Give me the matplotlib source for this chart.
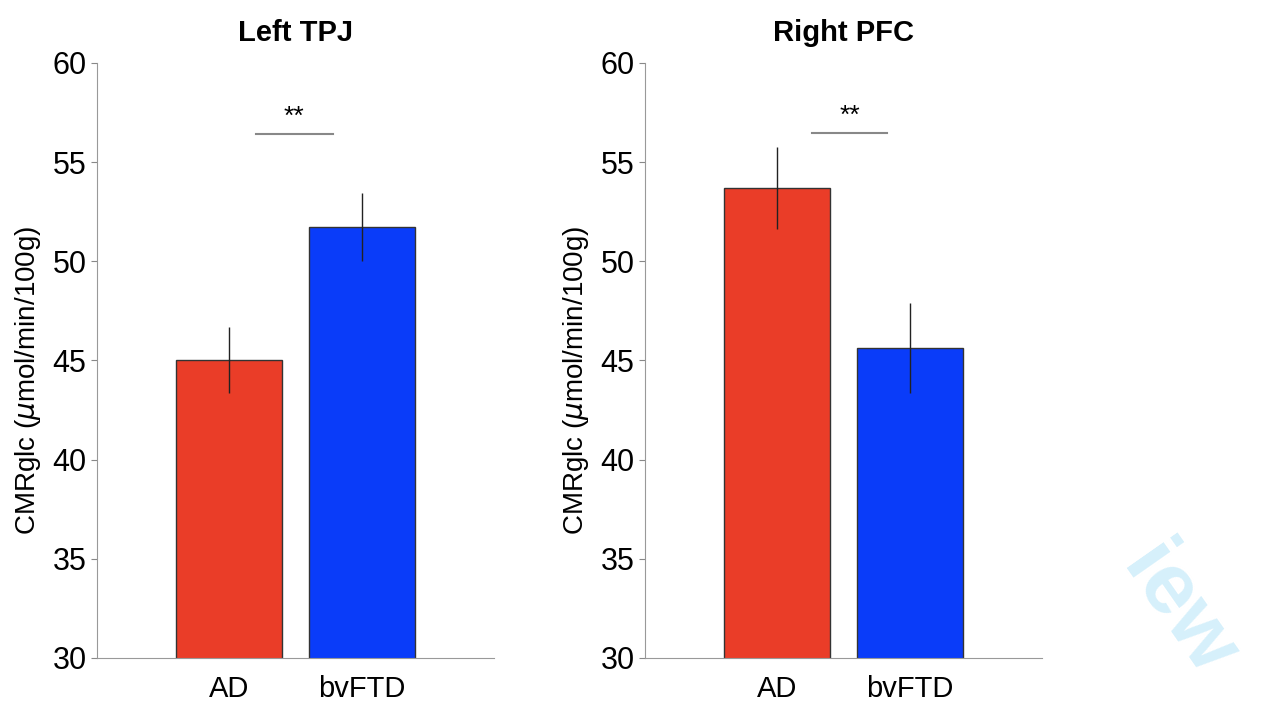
import matplotlib.pyplot as plt

plt.rcParams['font.family'] = ['Liberation Sans', 'DejaVu Sans']

groups = ['AD', 'bvFTD']
titles = ['Left TPJ', 'Right PFC']
means_tpj = [45.03, 51.73]
errs_tpj = [1.65, 1.72]
means_pfc = [53.7, 45.63]
errs_pfc = [2.08, 2.25]
sig_tpj = [1.20, 1.78, 56.4]   # x start, x end, y
sig_pfc = [1.26, 1.83, 56.45]
bar_colors = ['#EA3D28', '#0A3CF9']

fig = plt.figure(figsize=(12.63, 7.18), dpi=100)
ax1 = fig.add_axes([0.0768, 0.0836, 0.3143, 0.8287])
ax2 = fig.add_axes([0.5107, 0.0836, 0.3143, 0.8287])

for ax, title, means, errs, sig in [(ax1, titles[0], means_tpj, errs_tpj, sig_tpj),
                                    (ax2, titles[1], means_pfc, errs_pfc, sig_pfc)]:
    x = [1, 2]
    ax.bar(x, means, width=0.8, color=bar_colors, edgecolor='#333333', linewidth=1)
    ax.errorbar(x, means, yerr=errs, fmt='none', ecolor='#222222', elinewidth=1, capsize=0)
    ax.plot(sig[:2], [sig[2], sig[2]], color='#888888', lw=1.5)
    ax.text((sig[0] + sig[1]) / 2, sig[2] + 0.3, '**', ha='center', va='bottom', fontsize=19)
    ax.set_xlim(0, 3)
    ax.set_ylim(30, 60)
    ax.set_yticks([30, 35, 40, 45, 50, 55, 60])
    ax.set_xticks(x)
    ax.set_xticklabels(groups, fontsize=21)
    ax.tick_params(axis='y', labelsize=22, length=4, color='#888888', direction='out')
    ax.tick_params(axis='x', length=0, pad=12)
    for s in ['top', 'right']:
        ax.spines[s].set_visible(False)
    for s in ['left', 'bottom']:
        ax.spines[s].set_color('#999999')
    ax.set_ylabel(r'CMRglc ($\mu$mol/min/100g)', fontsize=20)
    ax.yaxis.set_label_coords(-0.136, 0.467)
    ax.set_title(title, fontsize=21, fontweight='bold', pad=16)

# faint watermark in the lower right corner
fig.text(1178, 718 - 612, 'iew', transform=None, fontsize=62, fontweight='bold',
         color='#D6F0FB', rotation=-55, ha='center', va='center')

fig.savefig('out.png', dpi=100)
